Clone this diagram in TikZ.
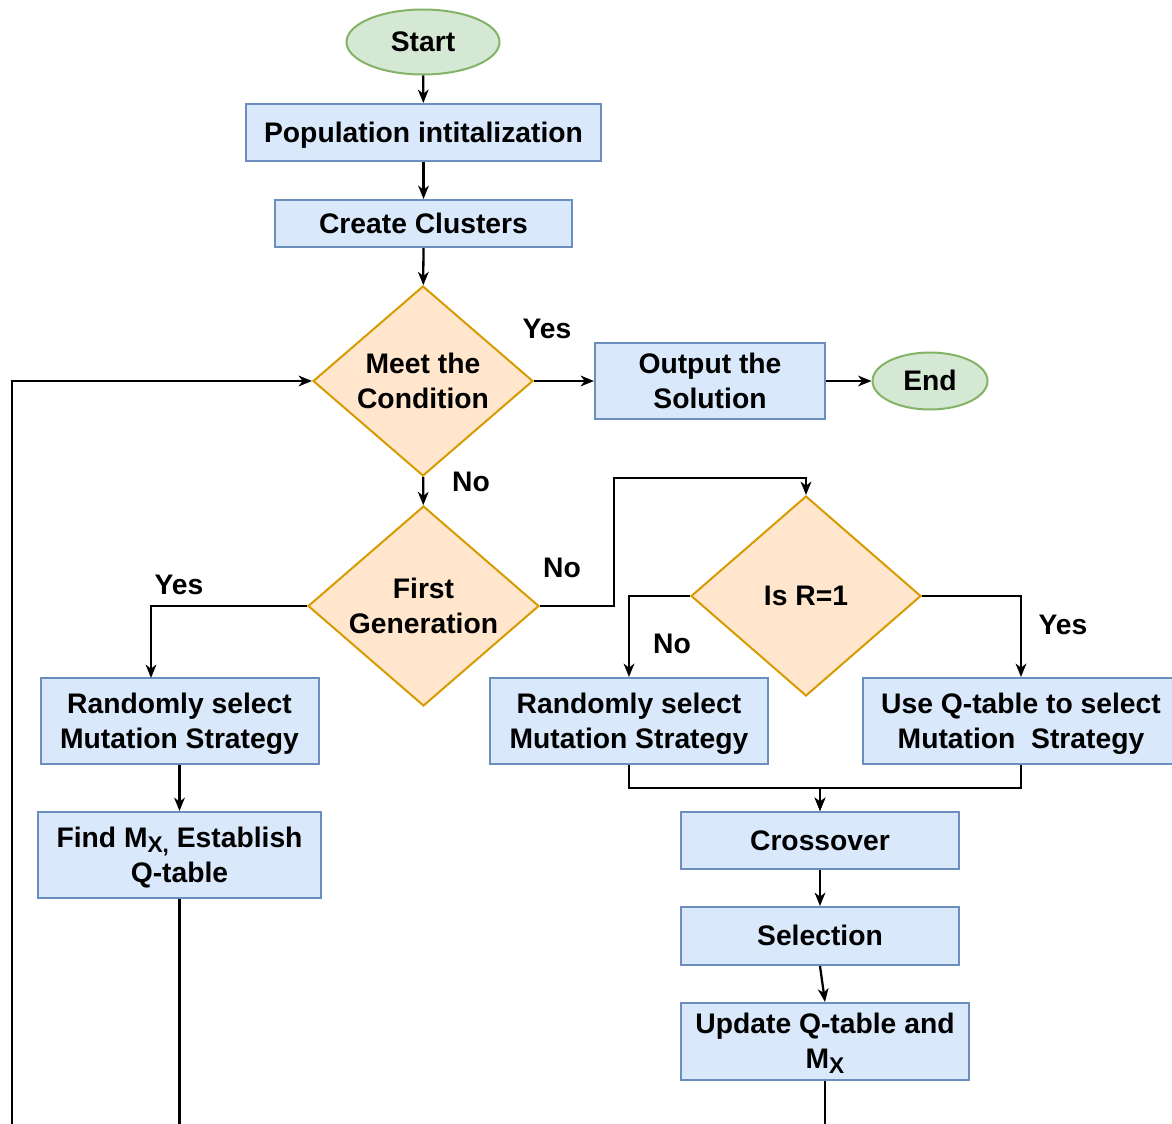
\documentclass[tikz,border=0pt]{standalone}
\usepackage{fontspec}
\setmainfont{Liberation Sans}
\usetikzlibrary{shapes.geometric,arrows.meta}
\definecolor{boxfill}{HTML}{DAE8FC}
\definecolor{boxline}{HTML}{6C8EBF}
\definecolor{diafill}{HTML}{FFE6CC}
\definecolor{dialine}{HTML}{D79B00}
\definecolor{termfill}{HTML}{D5E8D4}
\definecolor{termline}{HTML}{82B366}
\newcommand{\subx}[1]{\raisebox{-0.35ex}{\fontsize{17}{17}\selectfont #1}}
\tikzset{
  every node/.style={font=\fontsize{21.2}{26}\selectfont\bfseries, align=center,
    execute at begin node={\rule{0pt}{0.947em}},
    execute at end node={\rule[-0.253em]{0pt}{0pt}}},
  twoline/.style={text height=46.1pt, text depth=5.4pt},
  procbox/.style={rectangle, draw=boxline, fill=boxfill, line width=1.5pt, inner sep=0pt},
  decbox/.style={diamond, aspect=1.155, draw=dialine, fill=diafill, line width=1.5pt, inner sep=0pt},
  termbox/.style={ellipse, draw=termline, fill=termfill, line width=1.5pt, inner sep=0pt},
  lbl/.style={inner sep=0pt},
  arr/.style={line width=1.7pt, -{Stealth[length=10pt,width=8pt,inset=3pt]}},
  ln/.style={line width=1.7pt},
}
\begin{document}
\begin{tikzpicture}[x=0.75pt,y=-0.75pt]
\useasboundingbox (0,0) rectangle (1172,1124);
\clip (0,0) rectangle (1172,1124);
% nodes
\node[termbox, minimum width=153*0.75pt, minimum height=65*0.75pt] (start) at (423,42) {Start};
\node[procbox, minimum width=355*0.75pt, minimum height=57*0.75pt] (pop) at (423.5,132.5) {Population intitalization};
\node[procbox, minimum width=297*0.75pt, minimum height=47*0.75pt] (clu) at (423.5,223.5) {Create Clusters};
\node[decbox, twoline, minimum width=220*0.75pt, minimum height=190*0.75pt] (meet) at (423,381) {Meet the\\Condition};
\node[procbox, twoline, minimum width=230*0.75pt, minimum height=76*0.75pt] (out) at (710,381) {Output the\\Solution};
\node[termbox, minimum width=115*0.75pt, minimum height=57*0.75pt] (end) at (930,381) {End};
\node[decbox, twoline, minimum width=231*0.75pt, minimum height=200*0.75pt] (first) at (423.5,606) {First\\Generation};
\node[decbox, minimum width=230*0.75pt, minimum height=200*0.75pt] (isr) at (806,596) {Is R=1};
\node[procbox, twoline, minimum width=278*0.75pt, minimum height=86*0.75pt] (rl) at (179.5,721) {Randomly select\\Mutation Strategy};
\node[procbox, twoline, minimum width=278*0.75pt, minimum height=86*0.75pt] (rm) at (629,721) {Randomly select\\Mutation Strategy};
\node[procbox, twoline, minimum width=316*0.75pt, minimum height=86*0.75pt] (uq) at (1021,721) {Use Q-table to select\\Mutation~ Strategy};
\node[procbox, twoline, minimum width=283*0.75pt, minimum height=86*0.75pt] (find) at (179.5,855) {Find M\subx{X,} Establish\\Q-table};
\node[procbox, minimum width=278*0.75pt, minimum height=57*0.75pt] (cross) at (820,840.5) {Crossover};
\node[procbox, minimum width=278*0.75pt, minimum height=58*0.75pt] (sel) at (820,936) {Selection};
\node[procbox, twoline, minimum width=288*0.75pt, minimum height=77*0.75pt] (upd) at (825,1041.5) {Update Q-table and\\M\subx{X}};
% labels
\node[lbl] (l1) at (547,329) {Yes};
\node[lbl] (l2) at (471,482) {No};
\node[lbl] (l3) at (179,585) {Yes};
\node[lbl] (l4) at (562,568) {No};
\node[lbl] (l5) at (672,644) {No};
\node[lbl] (l6) at (1063,625) {Yes};
% helper coordinates
\coordinate (k1) at (614,478);
\coordinate (k2) at (151,678);
\coordinate (b0) at (12,1124);
\coordinate (b1) at (179.5,1124);
\coordinate (b2) at (825,1124);
% connectors
\draw[arr] (start) -- (pop);
\draw[arr] (pop) -- (clu);
\draw[arr] (clu) -- (meet);
\draw[arr] (meet) -- (out);
\draw[arr] (out) -- (end);
\draw[arr] (meet) -- (first);
\draw[arr] (first.west) -| (k2);
\draw[arr] (first.east) -| (k1) -| (isr.north);
\draw[arr] (isr.west) -| (rm.north);
\draw[arr] (isr.east) -| (uq.north);
\draw[arr] (rl) -- (find);
\draw[arr] (rm.south) -- ++(0,23) -| (cross.north);
\draw[arr] (uq.south) -- ++(0,23) -| (cross.north);
\draw[arr] (cross) -- (sel);
\draw[arr] (sel.south) -- (upd.north);
\draw[ln] (upd.south) -- (b2);
\draw[ln] (find.south) -- (b1);
\draw[arr] (b0) |- (meet.west);
\end{tikzpicture}
\end{document}
